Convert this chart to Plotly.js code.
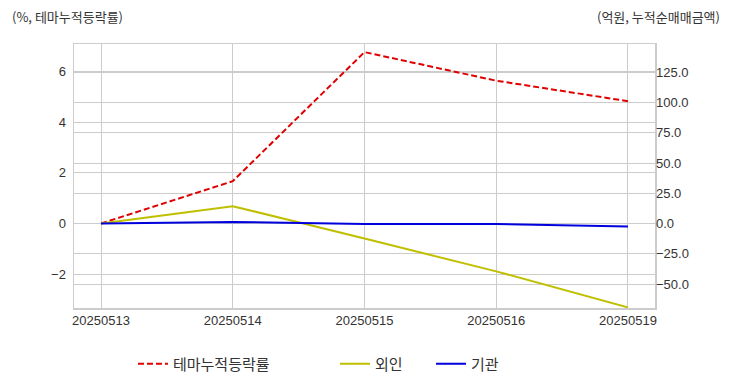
<!DOCTYPE html>
<html>
<head>
<meta charset="utf-8">
<script src="https://cdn.plot.ly/plotly-3.0.1.min.js"></script>
<style>html,body{margin:0;padding:0;background:#fff;}#chart{width:732px;height:392px;}</style>
</head>
<body>
<div id="chart"></div>
<script>
const dates = ["20250513", "20250514", "20250515", "20250516", "20250519"];
const themeReturn = [0, 1.67, 6.77, 5.64, 4.83];
const foreignNet = [0, 14.4, -12.4, -39.5, -69.3];
const instNet = [0, 1.4, -0.3, -0.3, -2.4];
const leftTicks = [-2, 0, 2, 4, 6];
const rightTicks = [-50, -25, 0, 25, 50, 75, 100, 125];

const tickFont = {family: "Liberation Sans, Arial, sans-serif", size: 13, color: "#333"};
const korFont = {family: "Noto Sans CJK KR, sans-serif", size: 13, color: "#333"};
const legFont = {family: "Noto Sans CJK KR, sans-serif", size: 15, color: "#333"};
const gridColor = "#cccccc";

const traces = [
  {x: dates, y: themeReturn, type: "scatter", mode: "lines", name: "테마누적등락률",
   line: {color: "#e00000", width: 2, dash: "6px,3px"}, yaxis: "y", legend: "legend"},
  {x: dates, y: foreignNet, type: "scatter", mode: "lines", name: "외인",
   line: {color: "#bfbf00", width: 2}, yaxis: "y2", legend: "legend2"},
  {x: dates, y: instNet, type: "scatter", mode: "lines", name: "기관",
   line: {color: "#0000dd", width: 2}, yaxis: "y2", legend: "legend3"}
];

function leg(x) {
  return {orientation: "h", x: x, xanchor: "left", y: -0.212, yanchor: "middle",
          font: legFont, bgcolor: "rgba(0,0,0,0)"};
}

const layout = {
  width: 732, height: 392,
  margin: {l: 74, r: 77, t: 44, b: 79},
  paper_bgcolor: "#fff", plot_bgcolor: "#fff",
  xaxis: {type: "category", range: [-0.205, 4.205], showgrid: true, gridcolor: gridColor, gridwidth: 1,
          showline: true, linecolor: gridColor, linewidth: 1.5, mirror: true, zeroline: false,
          ticks: "", tickfont: tickFont, fixedrange: true},
  yaxis: {range: [-3.34, 7.09], tickvals: leftTicks, showgrid: true, gridcolor: gridColor, gridwidth: 1,
          showline: true, linecolor: gridColor, linewidth: 1.5, mirror: true, zeroline: false,
          ticks: "", tickfont: tickFont, ticklabelstandoff: 4},
  yaxis2: {overlaying: "y", side: "right", range: [-69.8, 148.5], tickvals: rightTicks, tickformat: ".1f",
           showgrid: true, gridcolor: gridColor, gridwidth: 1, zeroline: false, showline: false,
           ticks: "", tickfont: tickFont},
  showlegend: true,
  legend: leg(0.1015),
  legend2: leg(0.4492),
  legend3: leg(0.6145),
  annotations: [
    {text: "(%, 테마누적등락률)", xref: "paper", yref: "paper", x: -0.110, y: 1.104,
     xanchor: "left", yanchor: "middle", showarrow: false, font: korFont},
    {text: "(억원, 누적순매매금액)", xref: "paper", yref: "paper", x: 1.1153, y: 1.104,
     xanchor: "right", yanchor: "middle", showarrow: false, font: korFont}
  ]
};

Plotly.newPlot("chart", traces, layout, {staticPlot: true, displayModeBar: false});
</script>
</body>
</html>
